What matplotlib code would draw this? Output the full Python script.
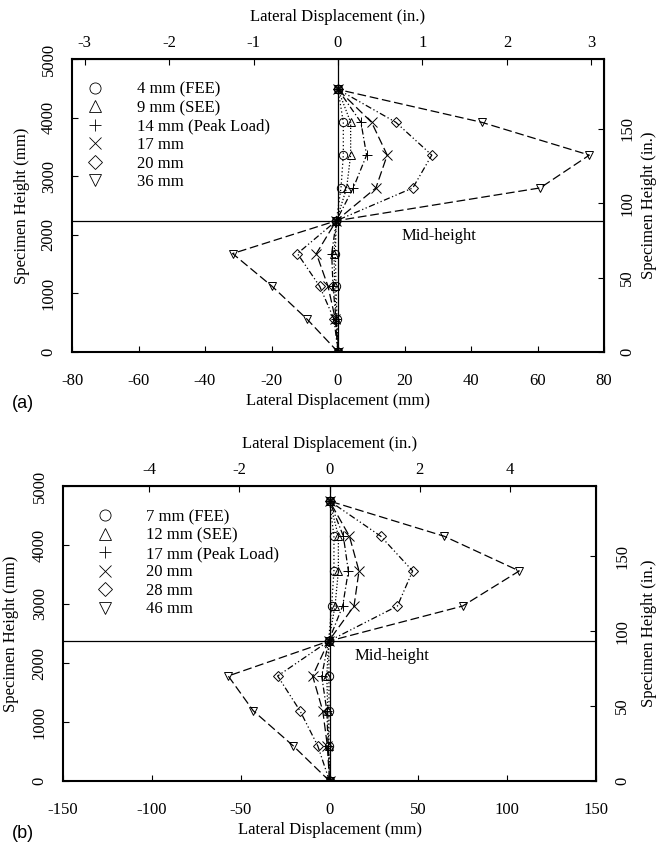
import matplotlib
matplotlib.use("Agg")
import matplotlib.pyplot as plt
from matplotlib.lines import Line2D

plt.rcParams['font.family'] = ['Liberation Serif', 'DejaVu Serif']
plt.rcParams['font.size'] = 11
plt.rcParams['axes.unicode_minus'] = False

MM_PER_IN = 25.4

# ---------------- Data: panel (a) ----------------
heights_a = [0, 560, 1120, 1680, 2240, 2800, 3360, 3920, 4480]
labels_a = ["4 mm (FEE)", "9 mm (SEE)", "14 mm (Peak Load)", "17 mm", "20 mm", "36 mm"]
a_4 = [0, -0.3, -0.6, -0.8, -0.5, 0.9, 1.6, 1.6, 0]
a_9 = [0, -0.5, -1.0, -1.2, -0.5, 2.6, 3.8, 3.8, 0]
a_14 = [0, -0.6, -1.5, -1.9, -0.5, 4.6, 8.6, 6.9, 0]
a_17 = [0, -0.8, -3.0, -6.5, -0.5, 11.4, 14.8, 10.1, 0]
a_20 = [0, -1.2, -5.5, -12.2, -0.5, 22.5, 28.2, 17.4, 0]
a_36 = [0, -9.3, -19.8, -31.7, -0.5, 60.8, 75.6, 43.2, 0]
mid_a = 2240

# ---------------- Data: panel (b) ----------------
heights_b = [0, 595, 1190, 1780, 2370, 2965, 3560, 4150, 4745]
labels_b = ["7 mm (FEE)", "12 mm (SEE)", "17 mm (Peak Load)", "20 mm", "28 mm", "46 mm"]
b_7 = [0, -0.3, -0.3, -0.3, -0.5, 1.2, 2.5, 2.5, 0]
b_12 = [0, -0.5, -1.0, -1.5, -0.5, 3.1, 5.0, 5.0, 0]
b_17 = [0, -0.8, -1.5, -4.4, -0.5, 7.4, 10.6, 7.8, 0]
b_20 = [0, -1.2, -3.8, -9.5, -0.5, 13.8, 16.6, 11.2, 0]
b_28 = [0, -6.6, -16.6, -29.2, -0.5, 38.2, 46.8, 28.8, 0]
b_46 = [0, -20.4, -42.9, -57.0, -0.5, 74.9, 106.8, 64.4, 0]
mid_b = 2370

markers = ['o', '^', '+', 'x', 'D', 'v']
msizes = [6, 6, 7, 7, 5, 6]
dashes = [(0, (1, 2)), (0, (1, 1.5)), (0, (5, 2, 1, 2)), (0, (7, 3)),
          (0, (5, 2, 1, 2, 1, 2)), (0, (7, 3))]

fig = plt.figure(figsize=(6.62, 8.44), dpi=100)


def panel(rect, heights, series, labels, mid, xlim, xticks, top_ticks,
          mid_text_xy, tag, tag_xy, legend_anchor, lpad_l, rpad, lpad_r):
    ax = fig.add_axes(rect)
    ax.axhline(mid, color='black', lw=0.9)
    ax.axvline(0, color='black', lw=0.9)
    handles = []
    for vals, m, ms, ls, lab in zip(series, markers, msizes, dashes, labels):
        ax.plot(vals, heights, color='black', lw=0.9, linestyle=ls,
                marker=m, markersize=ms, markerfacecolor='none',
                markeredgecolor='black', markeredgewidth=0.7)
        handles.append(Line2D([], [], linestyle='none', marker=m,
                              markersize=ms + 2, markerfacecolor='none',
                              markeredgecolor='black', markeredgewidth=0.6,
                              label=lab))
    ax.set_xlim(*xlim)
    ax.set_ylim(0, 5000)
    ax.set_xticks(xticks)
    ax.set_yticks([0, 1000, 2000, 3000, 4000, 5000])
    ax.tick_params(direction='in', length=4, width=0.8, labelsize=12)
    ax.tick_params(axis='x', pad=15)
    ax.tick_params(axis='y', labelrotation=90, pad=11)
    for lab in ax.get_yticklabels():
        lab.set_va('center')
    for s in ax.spines.values():
        s.set_linewidth(1.5)
    ax.set_xlabel("Lateral Displacement (mm)", fontsize=12, labelpad=3)
    ax.set_ylabel("Specimen Height (mm)", fontsize=12, labelpad=lpad_l)

    secx = ax.secondary_xaxis('top', functions=(lambda x: x / MM_PER_IN,
                                                lambda x: x * MM_PER_IN))
    secx.set_xticks(top_ticks)
    secx.tick_params(direction='in', length=4, width=0.8, labelsize=12, pad=6)
    secx.set_xlabel("Lateral Displacement (in.)", fontsize=12, labelpad=10)

    secy = ax.secondary_yaxis('right', functions=(lambda y: y / MM_PER_IN,
                                                  lambda y: y * MM_PER_IN))
    secy.set_yticks([0, 50, 100, 150])
    secy.tick_params(direction='in', length=4, width=0.8, labelsize=12,
                     labelrotation=90, pad=rpad)
    for lab in secy.get_yticklabels():
        lab.set_va('center')
    secy.set_ylabel("Specimen Height (in.)", fontsize=12, labelpad=lpad_r)

    ax.text(mid_text_xy[0], mid_text_xy[1], "Mid-height", fontsize=12,
            ha='center', va='center')
    ax.legend(handles=handles, loc='upper left', bbox_to_anchor=legend_anchor,
              frameon=False, handlelength=1.0, handletextpad=2.0,
              labelspacing=0.15, fontsize=12, borderaxespad=0)
    fig.text(tag_xy[0], tag_xy[1], tag, fontsize=13,
             family='Liberation Sans', ha='left', va='center')
    return ax


panel([72 / 662, 1 - 352 / 844, 532 / 662, 293 / 844], heights_a,
      [a_4, a_9, a_14, a_17, a_20, a_36], labels_a, mid_a,
      (-80, 80), [-80, -60, -40, -20, 0, 20, 40, 60, 80],
      [-3, -2, -1, 0, 1, 2, 3], (30.5, 1980), "(a)",
      (12 / 662, 1 - 403 / 844), (0.015, 0.945), 8, 11, 4)

panel([63 / 662, 1 - 781 / 844, 533 / 662, 295 / 844], heights_b,
      [b_7, b_12, b_17, b_20, b_28, b_46], labels_b, mid_b,
      (-150, 150), [-150, -100, -50, 0, 50, 100, 150],
      [-4, -2, 0, 2, 4], (35, 2120), "(b)",
      (12 / 662, 1 - 833 / 844), (0.05, 0.945), 9, 13, 8)

fig.savefig("out.png", dpi=100)
